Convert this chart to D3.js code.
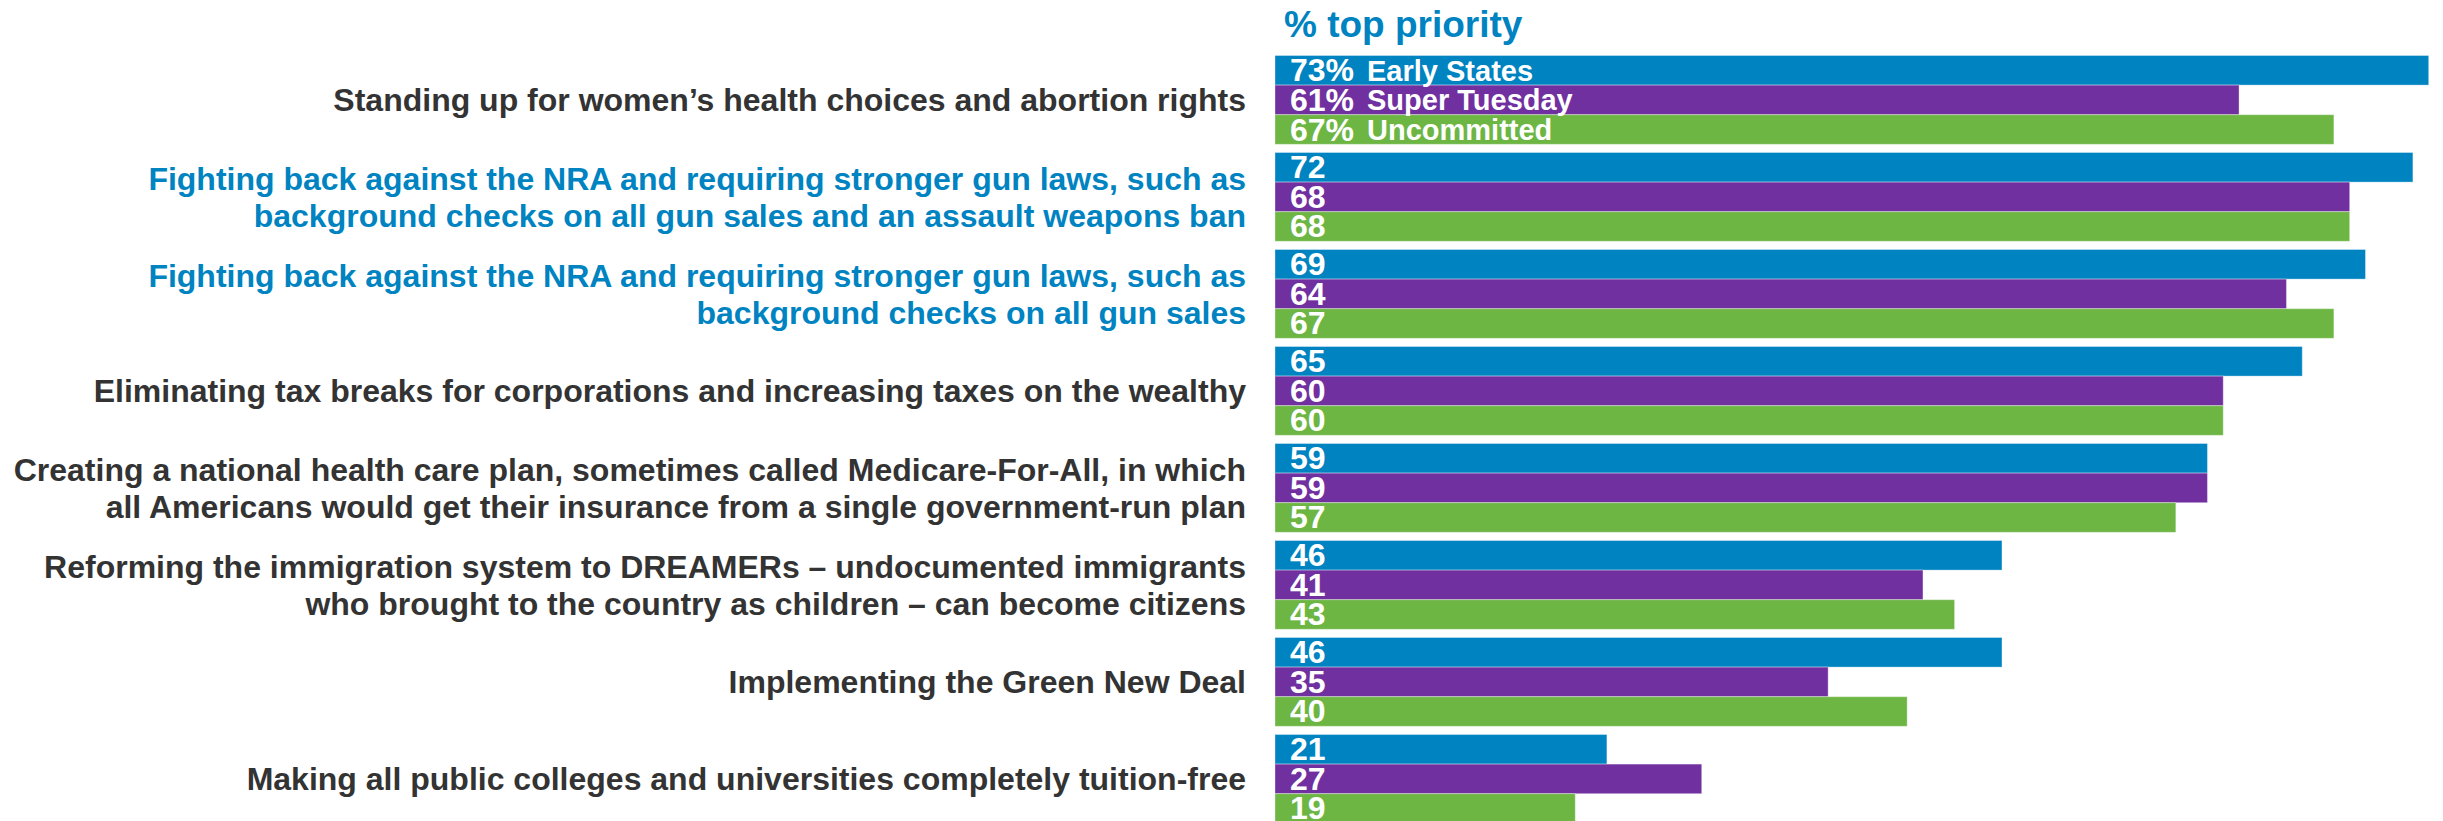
<!DOCTYPE html>
<html>
<head>
<meta charset="utf-8">
<script src="https://cdn.jsdelivr.net/npm/d3@7"></script>
<style>
  body { margin: 0; background: #fff; }
  svg { display: block; font-family: "Liberation Sans", Arial, sans-serif; }
</style>
</head>
<body>
<script>
// issue labels (already split into lines as in the slide)
const issues = [
  ["Standing up for women’s health choices and abortion rights"],
  ["Fighting back against the NRA and requiring stronger gun laws, such as",
   "background checks on all gun sales and an assault weapons ban"],
  ["Fighting back against the NRA and requiring stronger gun laws, such as",
   "background checks on all gun sales"],
  ["Eliminating tax breaks for corporations and increasing taxes on the wealthy"],
  ["Creating a national health care plan, sometimes called Medicare-For-All, in which",
   "all Americans would get their insurance from a single government-run plan"],
  ["Reforming the immigration system to DREAMERs – undocumented immigrants",
   "who brought to the country as children – can become citizens"],
  ["Implementing the Green New Deal"],
  ["Making all public colleges and universities completely tuition-free"]
];
const highlighted = [1, 2];   // rows printed in blue

const series = ["Early States", "Super Tuesday", "Uncommitted"];
const earlyStates   = [73, 72, 69, 65, 59, 46, 46, 21];
const superTuesday  = [61, 68, 64, 60, 59, 41, 35, 27];
const uncommitted   = [67, 68, 67, 60, 57, 43, 40, 19];
const values = [earlyStates, superTuesday, uncommitted];

const colors = ["#0083c1", "#7030a0", "#6db643"];
const labelGrey = "#333333";

const width = 2443, height = 821;

const svg = d3.select("body").append("svg")
    .attr("width", width)
    .attr("height", height);

const x = d3.scaleLinear()
    .domain([0, 100])
    .range([1275, 1275 + 1580.4]);

const y0 = d3.scaleBand()
    .domain(d3.range(issues.length))
    .range([55.5, 55.5 + 8 * 97 - 8.2])
    .paddingInner(0.0845)
    .paddingOuter(0);

const y1 = d3.scaleBand()
    .domain(series)
    .range([0, y0.bandwidth()]);

// title
svg.append("text")
    .attr("x", 1284)
    .attr("y", 37)
    .attr("fill", colors[0])
    .attr("font-size", 37)
    .attr("font-weight", "bold")
    .text("% top priority");

// bars
const rows = svg.append("g").selectAll("g")
  .data(issues)
  .join("g")
    .attr("transform", (d, i) => `translate(0,${y0(i)})`);

rows.selectAll("rect")
  .data((d, i) => series.map((s, j) => ({ s, j, i, v: values[j][i] })))
  .join("rect")
    .attr("x", x(0))
    .attr("y", d => y1(d.s))
    .attr("width", d => x(d.v) - x(0))
    .attr("height", y1.bandwidth())
    .attr("fill", d => colors[d.j])
    .attr("stroke", "rgba(255,255,255,0.35)")
    .attr("stroke-width", 1);

rows.selectAll("text.val")
  .data((d, i) => series.map((s, j) => ({ s, j, i, v: values[j][i] })))
  .join("text")
    .attr("class", "val")
    .attr("x", 1290)
    .attr("y", d => y1(d.s) + y1.bandwidth() / 2 + 11)
    .attr("fill", "#fff")
    .attr("font-size", 32)
    .attr("font-weight", "bold")
    .text(d => d.i === 0 ? d.v + "%" : d.v);

// series names inside the first row
rows.filter((d, i) => i === 0).selectAll("text.ser")
  .data(series)
  .join("text")
    .attr("class", "ser")
    .attr("x", 1367)
    .attr("y", s => y1(s) + y1.bandwidth() / 2 + 10.5)
    .attr("fill", "#fff")
    .attr("font-size", 29)
    .attr("font-weight", "bold")
    .text(s => s);

// issue labels via a left axis
const axis = d3.axisLeft(y0)
    .tickSize(0)
    .tickPadding(0)
    .tickFormat(() => "");

const ax = svg.append("g")
    .attr("transform", "translate(1246,0)")
    .call(axis);
ax.select(".domain").remove();

const lineH = 37.5;
ax.selectAll(".tick text").each(function(i) {
  const t = d3.select(this)
      .attr("font-family", "Liberation Sans, Arial, sans-serif")
      .attr("font-size", 32)
      .attr("font-weight", "bold")
      .attr("text-anchor", "end")
      .attr("fill", highlighted.includes(i) ? colors[0] : labelGrey)
      .attr("dy", null)
      .attr("x", 0);
  const lines = issues[i];
  const first = -((lines.length - 1) * lineH) / 2 + 11.5;
  lines.forEach((ln, k) => {
    t.append("tspan")
      .attr("x", 0)
      .attr("y", first + k * lineH)
      .text(ln);
  });
});
</script>
</body>
</html>
